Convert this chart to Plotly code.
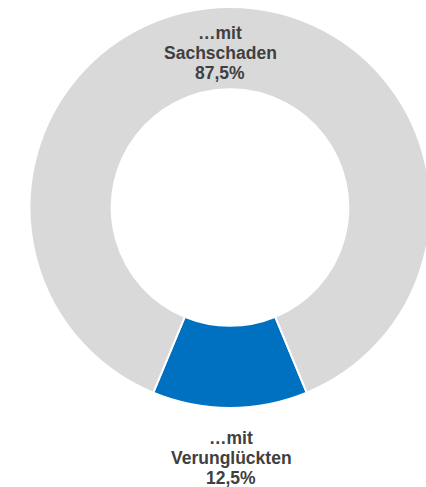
import plotly.graph_objects as go

categories = ["…mit Verunglückten", "…mit Sachschaden"]
label_lines = [["…mit", "Verunglückten"], ["…mit", "Sachschaden"]]
values = [12.5, 87.5]
colors = ["#0070C0", "#D9D9D9"]

W, H = 440, 487

fig = go.Figure(go.Pie(
    labels=categories,
    values=values,
    sort=False,
    direction="clockwise",
    rotation=157.5,
    hole=0.59,
    marker=dict(colors=colors, line=dict(color="white", width=2)),
    textinfo="none",
    hoverinfo="label+percent",
    showlegend=False,
    domain=dict(x=[29.5 / W, 430.5 / W], y=[79 / H, 480 / H]),
))

def fmt(v):
    return f"{v:.1f}".replace(".", ",") + "%"

# label anchor positions in pixels (layout only)
anchors = {1: (220, 33), 0: (231, 438)}
font = dict(family="Liberation Sans, Arial, sans-serif", size=17.5, color="#404040")
for i, v in enumerate(values):
    lines = label_lines[i] + [fmt(v)]
    x0, y0 = anchors[i]
    for k, t in enumerate(lines):
        fig.add_annotation(
            x=x0 / W, y=1 - (y0 + 20 * k) / H, xref="paper", yref="paper",
            text=f"<b>{t}</b>", showarrow=False, font=font,
            xanchor="center", yanchor="middle",
        )

fig.update_layout(
    width=W, height=H,
    margin=dict(l=0, r=0, t=0, b=0),
    paper_bgcolor="white", plot_bgcolor="white",
)

fig.write_html(
    "out.html",
    config={"displayModeBar": False},
    post_script=(
        "document.body.style.margin='0';"
        "document.body.style.overflow='hidden';"
        "document.documentElement.style.overflow='hidden';"
    ),
)
